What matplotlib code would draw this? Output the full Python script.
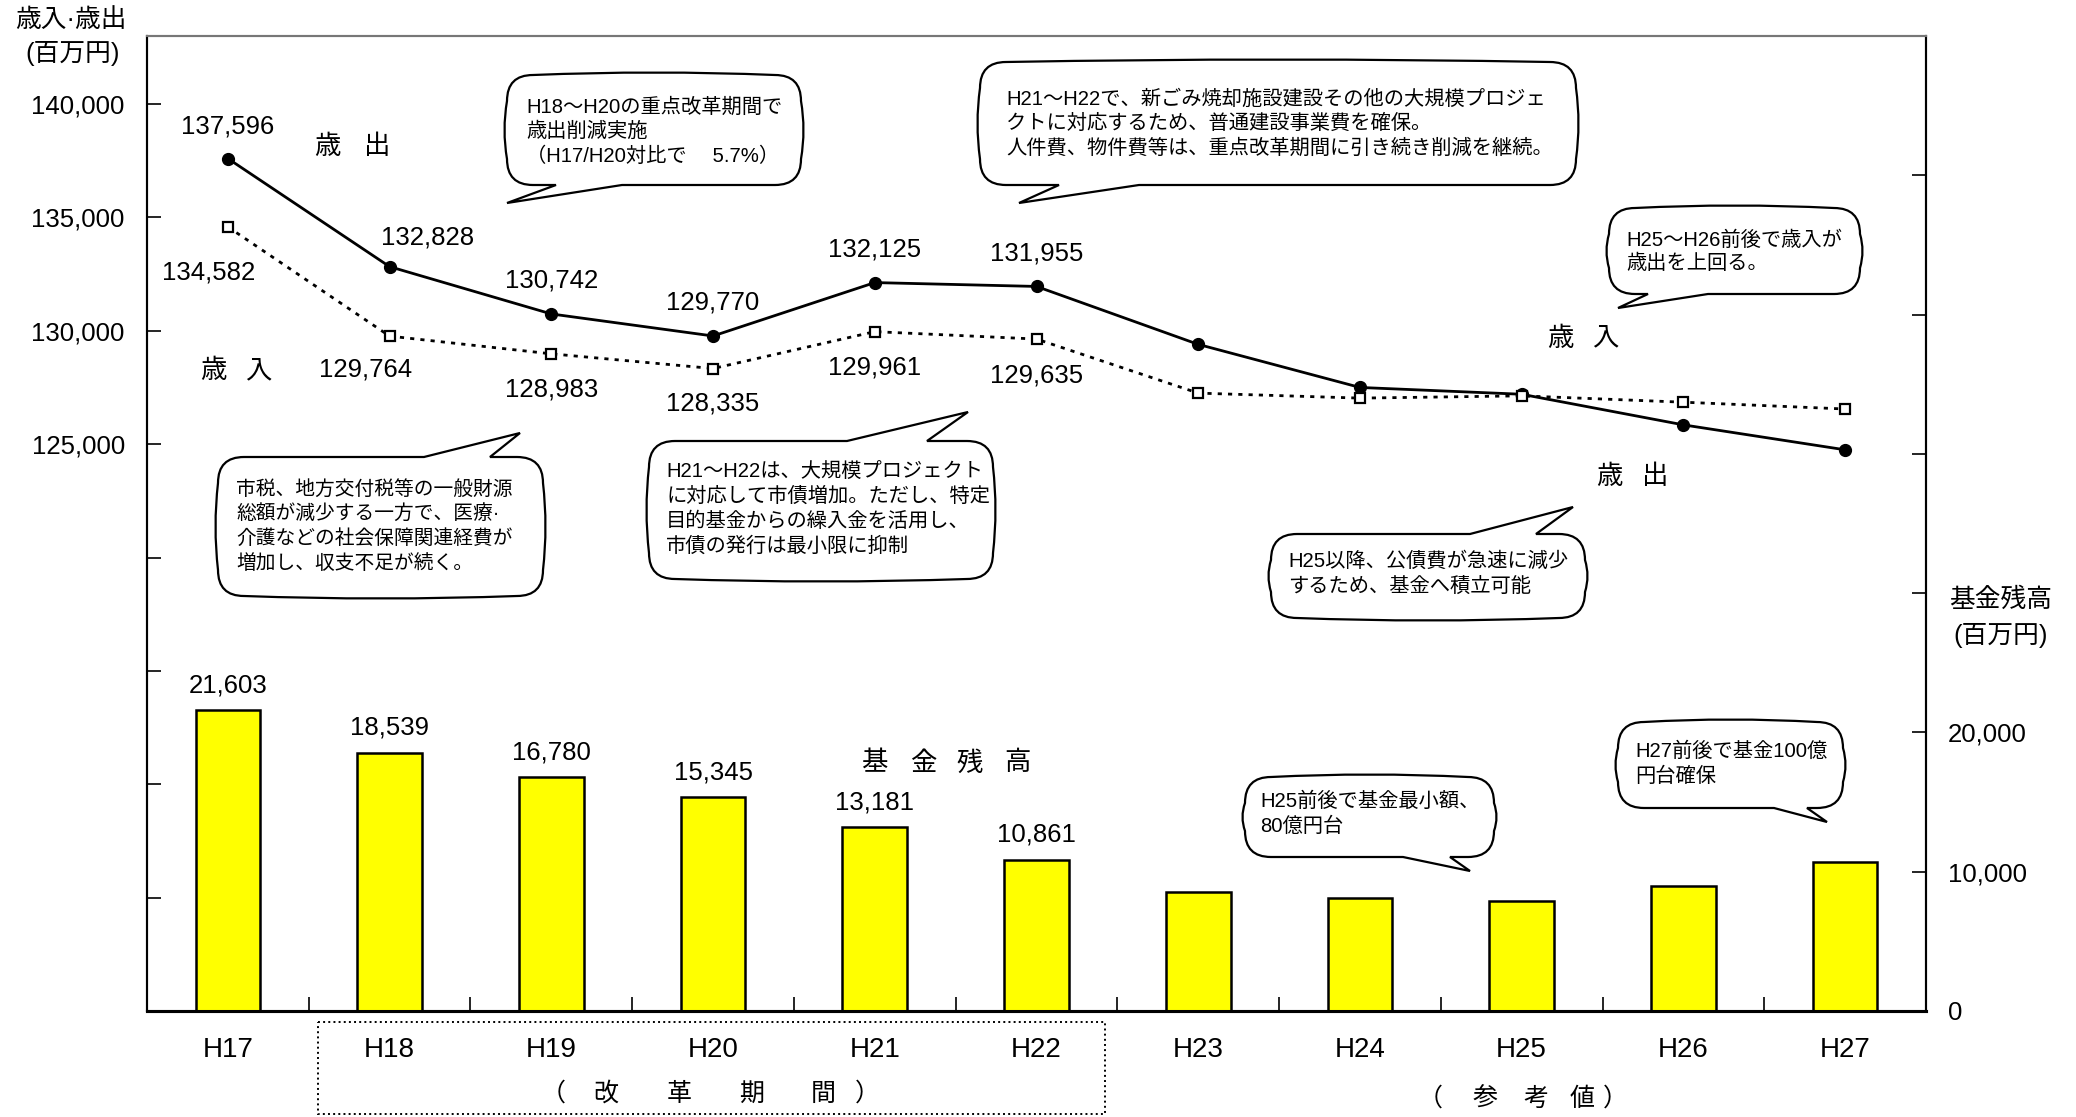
import numpy as np
import matplotlib
matplotlib.use('Agg')
import matplotlib.pyplot as plt
from matplotlib import font_manager
from matplotlib.path import Path
from matplotlib.patches import PathPatch, Rectangle
from matplotlib.ticker import FixedLocator, FuncFormatter

# 年度ごとの値 (百万円)
years = ['H17', 'H18', 'H19', 'H20', 'H21', 'H22', 'H23', 'H24', 'H25', 'H26', 'H27']
expenditure = [137596, 132828, 130742, 129770, 132125, 131955, 129400, 127500, 127200, 125850, 124750]
revenue = [134582, 129764, 128983, 128335, 129961, 129635, 127250, 127030, 127130, 126850, 126550]
fund = [21603, 18539, 16780, 15345, 13181, 10861, 8570, 8140, 7930, 9000, 10670]
n_labeled = 6

names = {f.name for f in font_manager.fontManager.ttflist}
LAT = 'Liberation Sans'
NARROW = 'Liberation Sans Narrow' if 'Liberation Sans Narrow' in names else LAT
JP = 'Noto Sans CJK JP'
plt.rcParams['font.family'] = [LAT, JP, 'DejaVu Sans']

W, H = 2076, 1117
fig = plt.figure(figsize=(W / 100, H / 100), dpi=100)
ax = fig.add_axes([147 / W, 1 - 1011 / H, (1926 - 147) / W, (1011 - 36) / H])
ax2 = ax.twinx()
x = np.arange(len(years))

# 基金残高 (右軸)
ax2.bar(x, fund, width=0.4, color='#FFFF00', edgecolor='black', linewidth=1.8, zorder=2)
for i in range(n_labeled):
    ax2.annotate(f'{fund[i]:,}', (x[i], fund[i]), xytext=(0, 18), textcoords='offset points',
                 ha='center', va='center', fontsize=18.5)

# 歳出・歳入 (左軸)
ax.plot(x, expenditure, '-', color='black', lw=2, marker='o', ms=8.5, zorder=3)
ax.plot(x, revenue, linestyle=(0, (1.5, 2.2)), color='black', lw=2, marker='s', ms=7,
        mfc='white', mec='black', mew=1.6, zorder=3)

exp_off = [(0, 23), (27, 21), (0, 24), (0, 24), (0, 24), (0, 24)]
rev_off = [(-14, -33), (-17, -24), (0, -26), (0, -25), (0, -26), (0, -26)]
for i in range(n_labeled):
    ax.annotate(f'{expenditure[i]:,}', (x[i], expenditure[i]), xytext=exp_off[i],
                textcoords='offset points', ha='center', va='center', fontsize=18.5)
    ax.annotate(f'{revenue[i]:,}', (x[i], revenue[i]), xytext=rev_off[i],
                textcoords='offset points', ha='center', va='center', fontsize=18.5)

ax.set_xlim(-0.5, 10.5)
ax.set_ylim(100000, 143000)
ax2.set_ylim(0, 70000)

ax.yaxis.set_major_locator(FixedLocator(range(100000, 140001, 5000)))
ax.yaxis.set_major_formatter(FuncFormatter(lambda v, p: f'{int(v):,}' if v >= 125000 else ''))
ax.tick_params(axis='y', direction='in', length=10, width=1.2, labelsize=18.5, pad=16)
ax2.yaxis.set_major_locator(FixedLocator(range(0, 60001, 10000)))
ax2.yaxis.set_major_formatter(FuncFormatter(lambda v, p: f'{int(v):,}' if v <= 20000 else ''))
ax2.tick_params(axis='y', direction='in', length=10, width=1.2, labelsize=18.5, pad=16)

ax.set_xticks(x)
ax.set_xticklabels(years, fontsize=20, family=NARROW)
ax.set_xticks(x[:-1] + 0.5, minor=True)
ax.tick_params(axis='x', which='major', length=0, pad=19)
ax.tick_params(axis='x', which='minor', direction='in', length=10, width=1.2)

for a in (ax, ax2):
    a.spines['top'].set_color('#777777')
    a.spines['top'].set_linewidth(1.5)
    a.spines['left'].set_linewidth(1.5)
    a.spines['right'].set_linewidth(1.5)
    a.spines['bottom'].set_linewidth(2.2)

# 注記用オーバーレイ (ピクセル座標)
ov = fig.add_axes([0, 0, 1, 1], zorder=5)
ov.set_xlim(0, W)
ov.set_ylim(H, 0)
ov.axis('off')
ov.patch.set_alpha(0)


def bubble(x0, y0, x1, y1, base, tip, side, r=26, b=5):
    # 角丸の吹き出し, 尾のない辺は少し膨らませる
    ba, bb = base
    M, L, C = Path.MOVETO, Path.LINETO, Path.CURVE3
    xm, ym = (x0 + x1) / 2, (y0 + y1) / 2
    v, c = [(x0 + r, y0)], [M]
    if side == 'top':
        v += [(ba, y0), tip, (bb, y0), (x1 - r, y0)]
        c += [L, L, L, L]
    else:
        v += [(xm, y0 - b), (x1 - r, y0)]
        c += [C, C]
    v += [(x1, y0), (x1, y0 + r), (x1 + b, ym), (x1, y1 - r), (x1, y1), (x1 - r, y1)]
    c += [C, C, C, C, C, C]
    if side == 'bottom':
        v += [(bb, y1), tip, (ba, y1), (x0 + r, y1)]
        c += [L, L, L, L]
    else:
        v += [(xm, y1 + b), (x0 + r, y1)]
        c += [C, C]
    v += [(x0, y1), (x0, y1 - r), (x0 - b, ym), (x0, y0 + r), (x0, y0), (x0 + r, y0)]
    c += [C, C, C, C, C, C]
    v.append((0, 0))
    c.append(Path.CLOSEPOLY)
    ov.add_patch(PathPatch(Path(v, c), facecolor='white', edgecolor='black', lw=1.6, zorder=3))


def lines(txts, x0, y0, step, size=14.6):
    for k, t in enumerate(txts):
        ov.text(x0, y0 + k * step, t, ha='left', va='center', fontsize=size, zorder=4)


bubble(507, 75, 801, 185, (556, 622), (507, 203), 'bottom')
lines(['H18～H20の重点改革期間で', '歳出削減実施', '（H17/H20対比で　 5.7%）'], 526, 107, 24.5)

bubble(980, 62, 1576, 185, (1059, 1139), (1019, 203), 'bottom')
lines(['H21～H22で、新ごみ焼却施設建設その他の大規模プロジェ',
       'クトに対応するため、普通建設事業費を確保。',
       '人件費、物件費等は、重点改革期間に引き続き削減を継続。'], 1006, 99, 24.5)

bubble(1609, 208, 1860, 294, (1648, 1708), (1618, 308), 'bottom')
lines(['H25～H26前後で歳入が', '歳出を上回る。'], 1626, 240, 23.5)

bubble(218, 457, 543, 596, (424, 490), (520, 433), 'top')
lines(['市税、地方交付税等の一般財源', '総額が減少する一方で、医療·',
       '介護などの社会保障関連経費が', '増加し、収支不足が続く。'], 236, 489, 24.7, 14.2)

bubble(649, 441, 993, 579, (847, 927), (968, 412), 'top')
lines(['H21～H22は、大規模プロジェクト', 'に対応して市債増加。ただし、特定',
       '目的基金からの繰入金を活用し、', '市債の発行は最小限に抑制'], 666, 471, 25)

bubble(1271, 534, 1585, 618, (1470, 1536), (1573, 507), 'top')
lines(['H25以降、公債費が急速に減少', 'するため、基金へ積立可能'], 1288, 561, 25)

bubble(1245, 777, 1494, 857, (1403, 1450), (1470, 871), 'bottom')
lines(['H25前後で基金最小額、', '80億円台'], 1260, 801, 25)

bubble(1618, 722, 1843, 808, (1774, 1807), (1827, 822), 'bottom')
lines(['H27前後で基金100億', '円台確保'], 1635, 751, 25)


def spaced(chars, xs, y, size=19):
    for ch, xc in zip(chars, xs):
        ov.text(xc, y, ch, ha='center', va='center', fontsize=size, family=JP)


spaced('歳出', [327, 377], 147)
spaced('歳入', [213, 258], 371)
spaced('歳入', [1560, 1605], 338)
spaced('歳出', [1609, 1655], 477)
spaced('基金残高', [874, 923, 970, 1017], 763)
spaced('（改革期間）', [553, 606, 679, 752, 823, 867], 1094, 18)
spaced('（参考値）', [1430, 1485, 1536, 1582, 1615], 1099, 18)

ov.add_patch(Rectangle((318, 1022), 1105 - 318, 1114 - 1022, fill=False,
                       edgecolor='black', lw=1.4, linestyle=':'))

# 軸タイトル
ov.text(71, 20, '歳入·歳出', ha='center', va='center', fontsize=18.5)
ov.text(73, 53, '(百万円)', ha='center', va='center', fontsize=18.5)
ov.text(2001, 600, '基金残高', ha='center', va='center', fontsize=18.5)
ov.text(2001, 635, '(百万円)', ha='center', va='center', fontsize=18.5)

fig.savefig('out.png', dpi=100)
